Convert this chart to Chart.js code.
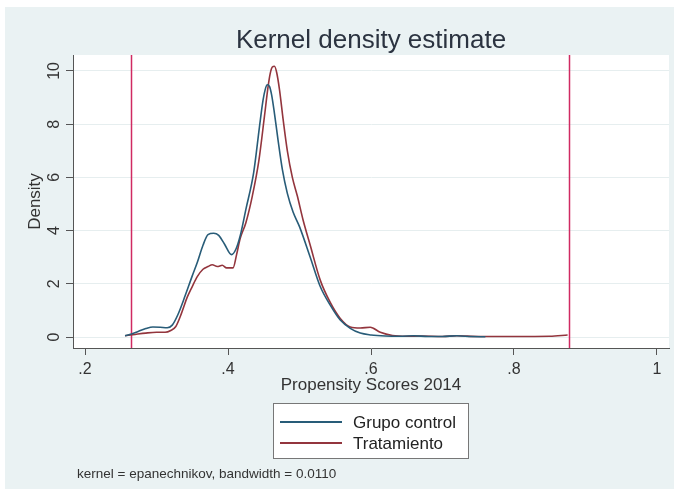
<!DOCTYPE html>
<html>
<head>
<meta charset="utf-8">
<script src="https://cdn.jsdelivr.net/npm/chart.js@4/dist/chart.umd.min.js"></script>
<style>
  html, body { margin: 0; padding: 0; background: #ffffff; }
  #wrap { width: 674px; height: 497px; }
</style>
</head>
<body>
<div id="wrap"><canvas id="c" width="674" height="497"></canvas></div>
<script>
// ---- Data ----
const titleText = 'Kernel density estimate';
const xTitle = 'Propensity Scores 2014';
const yTitle = 'Density';
const noteText = 'kernel = epanechnikov, bandwidth = 0.0110';

const seriesLabels = ['Grupo control', 'Tratamiento'];

const xControl = [0.256,0.265,0.275,0.285,0.295,0.305,0.315,0.322,0.330,0.340,0.350,0.357,0.365,0.372,0.380,0.387,0.395,0.405,0.411,0.417,0.425,0.436,0.444,0.449,0.452,0.455,0.458,0.461,0.465,0.470,0.476,0.483,0.491,0.500,0.515,0.529,0.543,0.557,0.571,0.585,0.600,0.620,0.640,0.660,0.680,0.700,0.720,0.740,0.760];
const yControl = [0.05,0.12,0.22,0.32,0.38,0.37,0.35,0.45,0.85,1.55,2.30,2.80,3.45,3.85,3.90,3.82,3.50,3.10,3.30,3.80,4.80,6.20,7.90,8.90,9.30,9.48,9.42,9.10,8.40,7.40,6.30,5.40,4.70,4.15,3.00,1.90,1.20,0.64,0.33,0.15,0.08,0.04,0.03,0.05,0.02,0.02,0.05,0.02,0.01];

const xTreat = [0.256,0.270,0.285,0.300,0.312,0.320,0.327,0.335,0.343,0.350,0.357,0.365,0.372,0.378,0.385,0.392,0.398,0.407,0.412,0.417,0.425,0.434,0.443,0.451,0.456,0.459,0.462,0.465,0.468,0.472,0.477,0.483,0.490,0.497,0.505,0.515,0.529,0.543,0.557,0.571,0.585,0.599,0.613,0.630,0.650,0.670,0.700,0.720,0.750,0.800,0.850,0.875];
const yTreat = [0.05,0.10,0.15,0.18,0.18,0.25,0.40,0.90,1.50,1.90,2.27,2.55,2.65,2.72,2.65,2.70,2.60,2.60,3.10,3.70,4.30,5.30,6.60,8.30,9.40,9.90,10.15,10.18,9.95,9.30,8.20,7.00,6.00,5.30,4.40,3.45,2.14,1.30,0.70,0.38,0.34,0.37,0.18,0.06,0.03,0.04,0.02,0.05,0.02,0.02,0.03,0.08];

const xLines = [0.264, 0.877];

const xTickValues = [0.2, 0.4, 0.6, 0.8, 1.0];
const xTickLabels = ['.2', '.4', '.6', '.8', '1'];
const yTickValues = [0, 2, 4, 6, 8, 10];
const yTickLabels = ['0', '2', '4', '6', '8', '10'];

// ---- Styles ----
const FONT = "'Liberation Sans', Arial, sans-serif";
const colControl = '#285c78';
const colTreat = '#93353d';
const colXLine = '#d02a62';
const bgOuter = '#eaf2f3';
const axisCol = '#555555';
const textCol = '#333333';

function toPoints(xs, ys) { return xs.map((x, i) => ({ x: x, y: ys[i] })); }

const backgroundPlugin = {
  id: 'stataBackground',
  beforeDraw(chart) {
    const ctx = chart.ctx;
    const a = chart.chartArea;
    ctx.save();
    ctx.fillStyle = '#ffffff';
    ctx.fillRect(0, 0, chart.width, chart.height);
    ctx.fillStyle = bgOuter;
    ctx.fillRect(5, 7, chart.width - 5, 482);
    ctx.fillStyle = '#ffffff';
    ctx.fillRect(a.left, a.top, a.right - a.left, a.bottom - a.top);
    ctx.restore();
  }
};

const xLinePlugin = {
  id: 'xLines',
  beforeDatasetsDraw(chart) {
    const ctx = chart.ctx;
    const xs = chart.scales.x;
    const a = chart.chartArea;
    ctx.save();
    ctx.strokeStyle = colXLine;
    ctx.lineWidth = 1.5;
    xLines.forEach(v => {
      const px = Math.round(xs.getPixelForValue(v)) + 0.5;
      ctx.beginPath();
      ctx.moveTo(px, a.top);
      ctx.lineTo(px, a.bottom);
      ctx.stroke();
    });
    ctx.restore();
  }
};

const textPlugin = {
  id: 'textParts',
  afterDraw(chart) {
    const ctx = chart.ctx;
    const a = chart.chartArea;
    ctx.save();
    // title, centred on the plot region
    ctx.fillStyle = '#2b3340';
    ctx.font = '26px ' + FONT;
    ctx.textAlign = 'center';
    ctx.textBaseline = 'middle';
    ctx.fillText(titleText, (a.left + a.right) / 2, 41);
    // legend box
    const bx = 273, by = 403, bw = 195, bh = 55;
    ctx.fillStyle = '#ffffff';
    ctx.fillRect(bx, by, bw, bh);
    ctx.strokeStyle = '#777777';
    ctx.lineWidth = 1;
    ctx.strokeRect(bx + 0.5, by + 0.5, bw, bh);
    const rows = [422, 443];
    chart.data.datasets.forEach((ds, i) => {
      const y = rows[i];
      ctx.strokeStyle = ds.borderColor;
      ctx.lineWidth = 1.8;
      ctx.beginPath();
      ctx.moveTo(280, y);
      ctx.lineTo(342, y);
      ctx.stroke();
      ctx.fillStyle = '#222222';
      ctx.font = '17px ' + FONT;
      ctx.textAlign = 'left';
      ctx.textBaseline = 'middle';
      ctx.fillText(ds.label, 353, y + 1);
    });
    // note
    ctx.fillStyle = textCol;
    ctx.font = '13.5px ' + FONT;
    ctx.textAlign = 'left';
    ctx.textBaseline = 'middle';
    ctx.fillText(noteText, 77, 474);
    ctx.restore();
  }
};

new Chart(document.getElementById('c'), {
  type: 'line',
  data: {
    datasets: [
      {
        label: seriesLabels[0],
        data: toPoints(xControl, yControl),
        borderColor: colControl,
        backgroundColor: colControl,
        borderWidth: 1.6,
        pointRadius: 0,
        cubicInterpolationMode: 'monotone',
        fill: false
      },
      {
        label: seriesLabels[1],
        data: toPoints(xTreat, yTreat),
        borderColor: colTreat,
        backgroundColor: colTreat,
        borderWidth: 1.6,
        pointRadius: 0,
        cubicInterpolationMode: 'monotone',
        fill: false
      }
    ]
  },
  options: {
    responsive: false,
    animation: false,
    devicePixelRatio: 1,
    layout: { padding: { left: 0, right: 5, top: 55, bottom: 99 } },
    plugins: {
      legend: { display: false },
      tooltip: { enabled: false },
      title: { display: false }
    },
    scales: {
      x: {
        type: 'linear',
        min: 0.1832,
        max: 1.0168,
        afterBuildTicks(scale) { scale.ticks = xTickValues.map(v => ({ value: v })); },
        afterFit(scale) { scale.height = 50; },
        ticks: {
          autoSkip: false,
          maxRotation: 0,
          minRotation: 0,
          padding: 5,
          color: textCol,
          font: { family: FONT, size: 16 },
          callback: (v) => { const i = xTickValues.findIndex(t => Math.abs(t - v) < 1e-9); return i >= 0 ? xTickLabels[i] : ''; }
        },
        grid: {
          drawOnChartArea: false,
          drawTicks: true,
          tickLength: 7,
          tickColor: axisCol,
          tickWidth: 1
        },
        border: { display: true, color: axisCol, width: 1 },
        title: {
          display: true,
          text: xTitle,
          color: textCol,
          font: { family: FONT, size: 17, lineHeight: 1.2 },
          padding: { top: 0, bottom: 2 }
        }
      },
      y: {
        type: 'linear',
        min: -0.41,
        max: 10.6,
        afterBuildTicks(scale) { scale.ticks = yTickValues.map(v => ({ value: v })); },
        afterFit(scale) { scale.width = 73; },
        ticks: {
          autoSkip: false,
          minRotation: 90,
          maxRotation: 90,
          crossAlign: 'center',
          padding: 3,
          color: textCol,
          font: { family: FONT, size: 16 },
          callback: (v) => { const i = yTickValues.findIndex(t => Math.abs(t - v) < 1e-9); return i >= 0 ? yTickLabels[i] : ''; }
        },
        grid: {
          drawOnChartArea: true,
          color: '#e6eeef',
          lineWidth: 1,
          drawTicks: true,
          tickLength: 7,
          tickColor: axisCol,
          tickWidth: 1
        },
        border: { display: true, color: axisCol, width: 1 },
        title: {
          display: true,
          text: yTitle,
          color: textCol,
          font: { family: FONT, size: 17, lineHeight: 1.2 },
          padding: { top: 25, bottom: 0 }
        }
      }
    }
  },
  plugins: [backgroundPlugin, xLinePlugin, textPlugin]
});
</script>
</body>
</html>
